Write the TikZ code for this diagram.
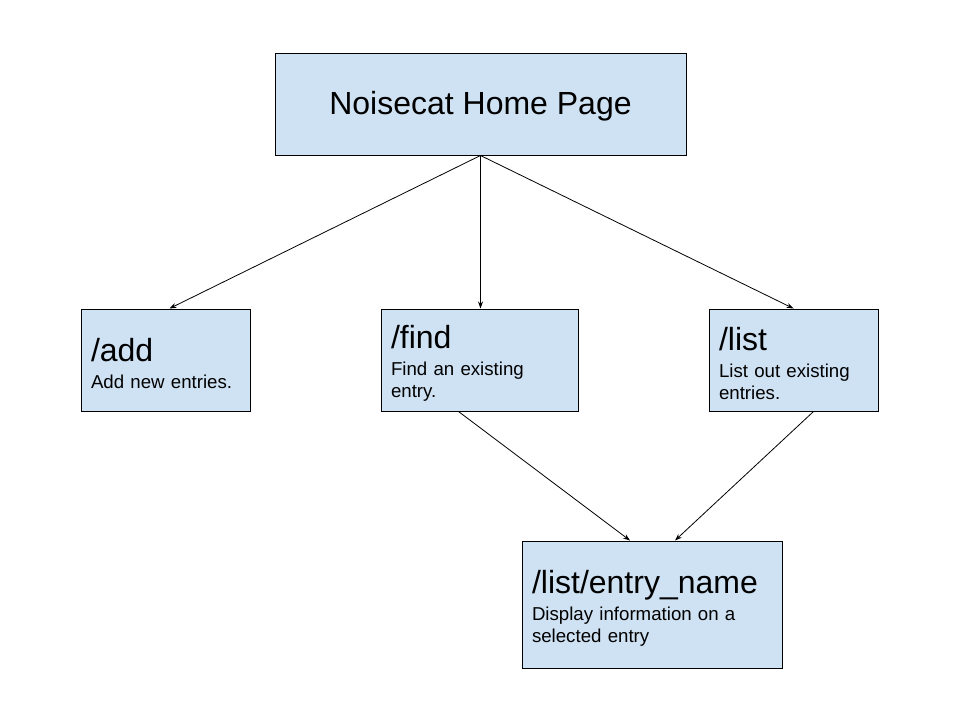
\documentclass[tikz,border=0pt]{standalone}
\usepackage{fontspec}
\setmainfont{Liberation Sans}
\usetikzlibrary{positioning,arrows.meta}

\newcommand{\pagetitle}[1]{{\fontsize{32}{38}\selectfont\rule{0pt}{30pt}#1}\\[5pt]}

\tikzset{
  page/.style={draw=black, line width=1pt, fill=pageblue, inner xsep=10pt,
    align=left, font=\fontsize{18.67}{22}\selectfont},
  link/.style={-{Stealth[length=7pt,width=5pt]}, line width=0.8pt}
}
\definecolor{pageblue}{HTML}{CFE2F3}

\begin{document}
\begin{tikzpicture}[x=1pt, y=-1pt]
    \useasboundingbox (0,0) rectangle (960,720);

    % Nodes
    \node (home) [page, align=center, minimum width=411pt, minimum height=102pt]
      at (480.5,104) {\fontsize{32}{38}\selectfont\rule{0pt}{27pt}Noisecat Home Page};
    \node (add) [page, text width=149pt, minimum height=102pt]
      at (165.5,360) {\pagetitle{/add}Add new entries.};
    \node (find) [page, text width=177pt, minimum height=102pt]
      at (479.5,360) {\pagetitle{/find}Find an existing\\entry.};
    \node (list) [page, text width=149pt, minimum height=102pt]
      at (793.5,360) {\pagetitle{/list}List out existing\\entries.};
    \node (entry) [page, text width=240pt, minimum height=127pt]
      at (652,604.5) {\pagetitle{/list/entry\_name}Display information on a\\selected entry};

    % Arrows
    \draw[link] (home.south) -- ([xshift=4pt]add.north);
    \draw[link] (home.south) -- (home.south |- find.north);
    \draw[link] (home.south) -- (list.north);
    \draw[link] ([xshift=-21pt]find.south) -- ([xshift=-22pt]entry.north);
    \draw[link] ([xshift=20pt]list.south) -- ([xshift=23pt]entry.north);
\end{tikzpicture}
\end{document}
